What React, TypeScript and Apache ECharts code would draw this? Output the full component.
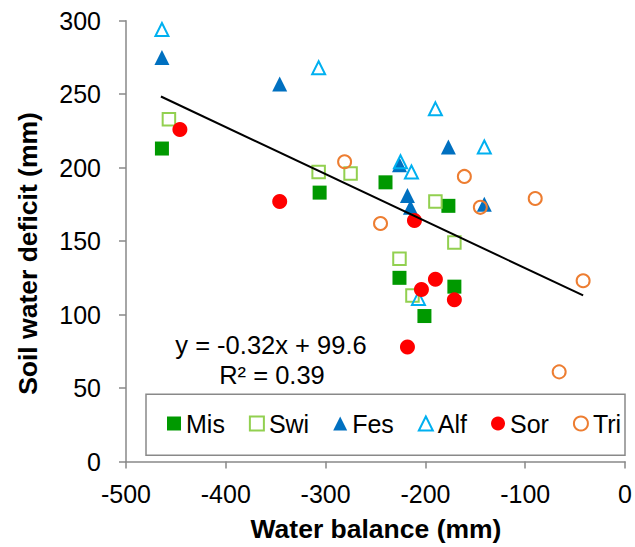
import React, { useEffect, useRef } from "react";
import * as echarts from "echarts";

const FONT = "'Liberation Sans', Arial, Helvetica, sans-serif";

const seriesNames = ["Mis", "Swi", "Fes", "Alf", "Sor", "Tri"];

const misX = [-464, -306, -240, -226, -177, -171, -201];
const misY = [213, 183, 190, 125, 174, 119, 99];
const swiX = [-457, -307, -275, -226, -213, -190, -171];
const swiY = [233, 197, 196, 138, 113, 177, 149];
const fesX = [-464, -346, -226, -218, -215, -177, -141];
const fesY = [275, 257, 202, 181, 173, 214, 175];
const alfX = [-464, -307, -225, -214, -207, -190, -141];
const alfY = [294, 268, 204, 197, 111, 240, 214];
const sorX = [-446, -346, -211, -204, -190, -218, -171];
const sorY = [226, 177, 164, 117, 124, 78, 110];
const triX = [-281, -245, -161, -145, -90, -42, -66];
const triY = [204, 162, 194, 173, 179, 123, 61];

const trendX = [-465, -42];
const trendY = [248.4, 113.0];

const equationText = "y = -0.32x + 99.6";
const r2Text = "R\u00B2 = 0.39";
const xTitle = "Water balance (mm)";
const yTitle = "Soil water deficit (mm)";

const zip = (xs: number[], ys: number[]) => xs.map((x, i) => [x, ys[i]]);

const AXIS_GRAY = "#898989";

export default function App() {
  const ref = useRef<HTMLDivElement>(null);
  useEffect(() => {
    const chart = echarts.init(ref.current!, null, { renderer: "svg" });
    const axisCommon = {
      type: "value" as const,
      splitLine: { show: false },
      axisLine: { show: true, onZero: false, lineStyle: { color: AXIS_GRAY, width: 1.5 } },
      axisTick: { show: true, inside: false, length: 7, lineStyle: { color: AXIS_GRAY, width: 1.5 } },
    };
    const textStyleBase = (font: string) => ({
      font,
      fill: "#000",
      align: "center",
      verticalAlign: "middle",
      textAlign: "center",
      textVerticalAlign: "middle",
    });
    const option = {
      animation: false,
      backgroundColor: "#fff",
      grid: { left: 126, top: 20.7, width: 500, height: 440.8, containLabel: false },
      xAxis: {
        ...axisCommon,
        min: -500,
        max: 0,
        interval: 100,
        axisLabel: { fontSize: 25, color: "#000", fontFamily: FONT, margin: 20, showMinLabel: true, showMaxLabel: true },
      },
      yAxis: {
        ...axisCommon,
        min: 0,
        max: 300,
        interval: 50,
        axisLabel: { fontSize: 25, color: "#000", fontFamily: FONT, margin: 25, showMinLabel: true, showMaxLabel: true },
      },
      legend: {
        data: seriesNames,
        left: 167,
        top: 411,
        padding: 0,
        itemGap: 24,
        itemWidth: 14,
        itemHeight: 14,
        selectedMode: false,
        textStyle: { fontSize: 25, color: "#000", fontFamily: FONT },
        z: 5,
      },
      graphic: {
        elements: [
          {
            type: "rect",
            z: 1,
            shape: { x: 146, y: 394.3, width: 479, height: 61 },
            style: { fill: "#fff", stroke: AXIS_GRAY, lineWidth: 1.5 },
          },
          {
            type: "text",
            z: 6,
            x: 271,
            y: 344.5,
            style: { text: equationText, ...textStyleBase(`25.5px ${FONT}`) },
          },
          {
            type: "text",
            z: 6,
            x: 272,
            y: 374.5,
            style: { text: r2Text, ...textStyleBase(`25.5px ${FONT}`) },
          },
          {
            type: "text",
            z: 6,
            x: 376,
            y: 529,
            style: { text: xTitle, ...textStyleBase(`bold 26.5px ${FONT}`) },
          },
          {
            type: "text",
            z: 6,
            x: 28,
            y: 253.5,
            rotation: Math.PI / 2,
            style: { text: yTitle, ...textStyleBase(`bold 26.5px ${FONT}`) },
          },
        ],
      },
      series: [
        {
          name: "Mis",
          type: "scatter",
          data: zip(misX, misY),
          symbol: "rect",
          symbolSize: 14,
          itemStyle: { color: "#009900", opacity: 1 },
        },
        {
          name: "Swi",
          type: "scatter",
          data: zip(swiX, swiY),
          symbol: "rect",
          symbolSize: 12.5,
          itemStyle: { color: "rgba(255,255,255,0)", borderColor: "#92D050", borderWidth: 2, opacity: 1 },
        },
        {
          name: "Fes",
          type: "scatter",
          data: zip(fesX, fesY),
          symbol: "triangle",
          symbolSize: 15,
          itemStyle: { color: "#0070C0", opacity: 1 },
        },
        {
          name: "Alf",
          type: "scatter",
          data: zip(alfX, alfY),
          symbol: "triangle",
          symbolSize: 13,
          itemStyle: { color: "rgba(255,255,255,0)", borderColor: "#00B0F0", borderWidth: 2, opacity: 1 },
        },
        {
          name: "Sor",
          type: "scatter",
          data: zip(sorX, sorY),
          symbol: "circle",
          symbolSize: 15,
          itemStyle: { color: "#FF0000", opacity: 1 },
        },
        {
          name: "Tri",
          type: "scatter",
          data: zip(triX, triY),
          symbol: "circle",
          symbolSize: 13,
          itemStyle: { color: "rgba(255,255,255,0)", borderColor: "#ED7D31", borderWidth: 2, opacity: 1 },
        },
        {
          name: "Trend",
          type: "line",
          data: zip(trendX, trendY),
          symbol: "none",
          silent: true,
          z: 10,
          lineStyle: { color: "#000", width: 2 },
        },
      ],
    };
    chart.setOption(option as any);
    return () => chart.dispose();
  }, []);
  return (
    <div
      ref={ref}
      style={{ position: "fixed", left: 0, top: 0, width: 635, height: 547 }}
    />
  );
}
